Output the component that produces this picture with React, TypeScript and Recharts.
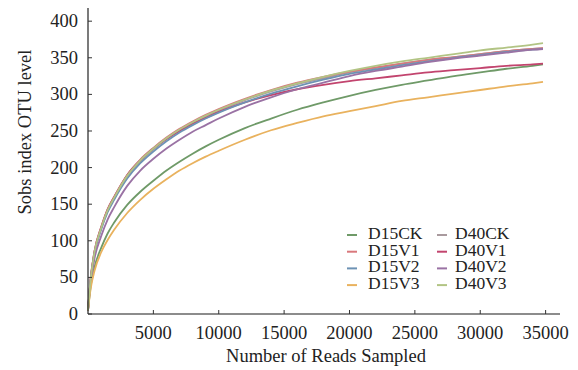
import { LineChart, Line, XAxis, YAxis } from "recharts";

const reads = [0, 200, 500, 1000, 1500, 2000, 3000, 4000, 5000, 6000, 7000, 8000, 9000, 10000, 12000, 14000, 16000, 18000, 20000, 22000, 24000, 26000, 28000, 30000, 32000, 34000, 34800];

const d15ck = [5, 37, 64, 90, 110, 125, 149, 167, 182, 196, 208, 219, 229, 238, 254, 267, 279, 289, 298, 306, 313, 319, 325, 330, 335, 339, 341];
const d40ck = [5, 47, 84, 116, 141, 158, 188, 209, 225, 239, 251, 261, 270, 278, 292, 304, 314, 322, 330, 336, 342, 347, 351, 355, 359, 362, 363];
const d15v1 = [5, 48, 86, 118, 143, 160, 190, 211, 227, 241, 253, 263, 272, 280, 294, 306, 316, 324, 331, 337, 342, 347, 351, 355, 359, 362, 363];
const d40v1 = [5, 48, 86, 118, 143, 160, 190, 210, 226, 239, 250, 260, 268, 276, 289, 299, 307, 313, 318, 322, 326, 330, 333, 336, 339, 341, 342];
const d15v2 = [5, 46, 83, 115, 139, 156, 185, 206, 222, 236, 248, 258, 267, 275, 289, 301, 311, 320, 328, 334, 340, 345, 350, 354, 358, 361, 362];
const d40v2 = [5, 42, 76, 106, 129, 146, 175, 196, 212, 226, 238, 249, 258, 267, 283, 296, 307, 316, 325, 332, 338, 344, 349, 353, 357, 361, 362];
const d15v3 = [5, 34, 59, 84, 101, 115, 138, 156, 171, 184, 196, 206, 215, 223, 238, 251, 261, 270, 277, 284, 291, 296, 301, 306, 311, 315, 317];
const d40v3 = [5, 47, 85, 117, 142, 159, 189, 210, 226, 240, 252, 262, 271, 279, 293, 305, 315, 324, 332, 339, 345, 350, 355, 360, 364, 368, 370];

const xTicks = [5000, 10000, 15000, 20000, 25000, 30000, 35000];
const yTicks = [0, 50, 100, 150, 200, 250, 300, 350, 400];

const series = [
  { key: "D15CK", values: d15ck, color: "#6f9a68" },
  { key: "D40CK", values: d40ck, color: "#a99a9e" },
  { key: "D15V1", values: d15v1, color: "#d9787c" },
  { key: "D40V1", values: d40v1, color: "#c2446e" },
  { key: "D15V2", values: d15v2, color: "#6d92b4" },
  { key: "D40V2", values: d40v2, color: "#9a72a4" },
  { key: "D15V3", values: d15v3, color: "#e9b25e" },
  { key: "D40V3", values: d40v3, color: "#b2c484" },
];

const data = reads.map((r, i) => {
  const row: Record<string, number> = { reads: r };
  series.forEach((s) => (row[s.key] = s.values[i]));
  return row;
});

const font = "'Liberation Serif', 'Times New Roman', serif";
const fs = 18.5;

const XTick = ({ x, y, payload }: any) => (
  <g>
    <line x1={x} y1={y} x2={x} y2={y - 4} stroke="#333" />
    <text x={x} y={y + 25} textAnchor="middle" fontSize={fs} fill="#222" fontFamily={font}>
      {payload.value}
    </text>
  </g>
);

const YTick = ({ x, y, payload }: any) => (
  <g>
    <line x1={x} y1={y} x2={x + 4} y2={y} stroke="#333" />
    <text x={x - 10} y={y + 6} textAnchor="end" fontSize={fs} fill="#222" fontFamily={font}>
      {payload.value}
    </text>
  </g>
);

const XTitle = () => (
  <text x={326} y={362} textAnchor="middle" fontSize={fs} fill="#222" fontFamily={font}>
    Number of Reads Sampled
  </text>
);

const YTitle = () => (
  <text transform="translate(31,132) rotate(-90)" textAnchor="middle" fontSize={fs} fill="#222" fontFamily={font}>
    Sobs index OTU level
  </text>
);

const LegendBox = () => {
  const cols = [series.filter((_, i) => i % 2 === 0), series.filter((_, i) => i % 2 === 1)];
  return (
    <svg width={578} height={370} style={{ position: "absolute", left: 0, top: 0, pointerEvents: "none" }}>
      {cols.map((col, ci) =>
        col.map((s, ri) => (
          <g key={s.key} transform={`translate(${347 + ci * 90},${239 + ri * 16.7})`}>
            <line x1={0} y1={-4} x2={10} y2={-4} stroke={s.color} strokeWidth={2} />
            <text x={ci === 0 ? 21 : 18} y={0} fontSize={17.5} fill="#222" fontFamily={font}>
              {s.key}
            </text>
          </g>
        ))
      )}
    </svg>
  );
};

export default function App() {
  return (
    <div style={{ position: "absolute", left: 0, top: 0, width: 578, height: 370, background: "#fff" }}>
      <LineChart width={578} height={370} data={data} margin={{ top: 8, right: 18, bottom: 0, left: 28 }}>
        <XAxis
          dataKey="reads"
          type="number"
          domain={[0, 36100]}
          ticks={xTicks}
          height={56}
          tick={<XTick />}
          tickLine={false}
          tickSize={0}
          tickMargin={0}
          axisLine={{ stroke: "#666", strokeWidth: 1.5 }}
          label={<XTitle />}
        />
        <YAxis
          type="number"
          domain={[0, 418]}
          ticks={yTicks}
          width={60}
          tick={<YTick />}
          tickLine={false}
          tickSize={0}
          tickMargin={0}
          axisLine={{ stroke: "#222", strokeWidth: 1.2 }}
          label={<YTitle />}
        />
        {series.map((s) => (
          <Line
            key={s.key}
            dataKey={s.key}
            stroke={s.color}
            strokeWidth={1.8}
            dot={false}
            type="monotone"
            isAnimationActive={false}
          />
        ))}
      </LineChart>
      <LegendBox />
    </div>
  );
}
